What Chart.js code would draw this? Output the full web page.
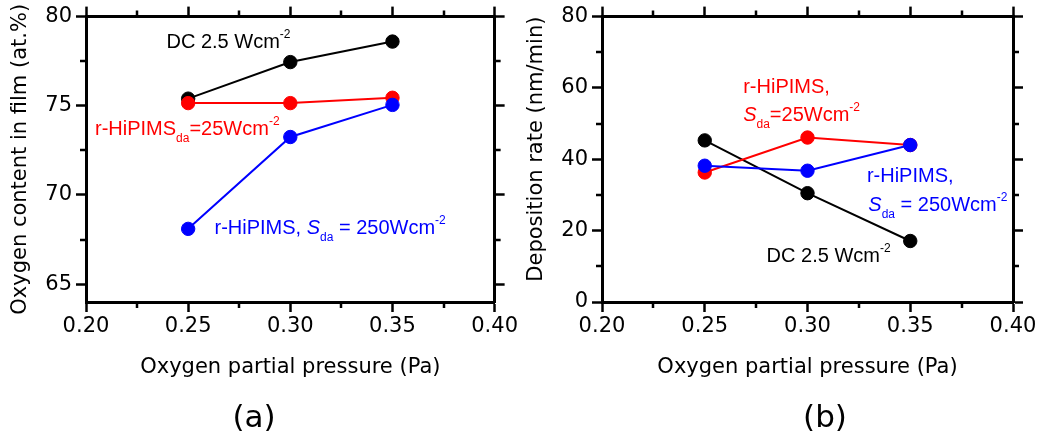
<!DOCTYPE html>
<html><head><meta charset="utf-8">
<script src="https://cdn.jsdelivr.net/npm/chart.js@4/dist/chart.umd.min.js"></script>
<style>
html,body{margin:0;padding:0;background:#fff;}
#wrap{position:relative;width:1040px;height:436px;overflow:hidden;background:#fff;}
.panel{position:absolute;top:0;width:520px;height:436px;}
.lbl{position:absolute;font-family:"DejaVu Sans",sans-serif;font-size:31px;color:#000;transform:translate(-50%,-50%);line-height:1;white-space:nowrap;}
</style></head><body>
<div id="wrap">
  <div class="panel" style="left:0"><canvas id="ca" width="520" height="436"></canvas></div>
  <div class="panel" style="left:520px"><canvas id="cb" width="520" height="436"></canvas></div>
  <div class="lbl" style="left:254px;top:416px">(a)</div>
  <div class="lbl" style="left:825px;top:416px">(b)</div>
</div>
<script>
// ---- data ----
const pressure = [0.25, 0.30, 0.35];
const oxygenDC = [75.4, 77.45, 78.6];
const oxygenHiP25 = [75.15, 75.15, 75.45];
const oxygenHiP250 = [68.1, 73.25, 75.05];
const rateDC = [45.3, 30.5, 17.1];
const rateHiP25 = [36.3, 46.1, 44.0];
const rateHiP250 = [38.2, 36.8, 44.0];
const xTicks = [0.20, 0.25, 0.30, 0.35, 0.40];
const yTicksA = [65, 70, 75, 80];
const yTicksB = [0, 20, 40, 60, 80];
const seriesNames = ['DC 2.5 Wcm-2', 'r-HiPIMS Sda=25Wcm-2', 'r-HiPIMS Sda=250Wcm-2'];

const BLACK = '#000000', RED = '#ff0000', BLUE = '#0000ff';

// ---- annotation texts (anchored in data coordinates) ----
const notesA = [
  {x: 0.2394, y: 78.23, color: BLACK, parts: [['DC 2.5 Wcm'], ['-2', 'sup']]},
  {x: 0.2044, y: 73.35, color: RED, parts: [['r-HiPIMS'], ['da', 'sub'], ['=25Wcm'], ['-2', 'sup']]},
  {x: 0.2629, y: 67.83, color: BLUE, parts: [['r-HiPIMS, '], ['S', 'i'], ['da', 'sub'], [' = 250Wcm'], ['-2', 'sup']]}
];
const notesB = [
  {x: 0.2687, y: 58.62, color: RED, parts: [['r-HiPIMS,']]},
  {x: 0.2687, y: 50.73, color: RED, parts: [['S', 'i'], ['da', 'sub'], ['=25Wcm'], ['-2', 'sup']]},
  {x: 0.3289, y: 33.53, color: BLUE, parts: [['r-HiPIMS,']]},
  {x: 0.3296, y: 25.6, color: BLUE, parts: [['S', 'i'], ['da', 'sub'], [' = 250Wcm'], ['-2', 'sup']]},
  {x: 0.2801, y: 11.23, color: BLACK, parts: [['DC 2.5 Wcm'], ['-2', 'sup']]}
];

Chart.defaults.font.family = '"DejaVu Sans", sans-serif';
Chart.defaults.color = '#000';

function richTextPlugin(items) {
  return {
    id: 'richText',
    afterDatasetsDraw(chart) {
      const ctx = chart.ctx, xs = chart.scales.x, ys = chart.scales.y;
      ctx.save();
      ctx.textAlign = 'left';
      ctx.textBaseline = 'alphabetic';
      for (const a of items) {
        let cx = xs.getPixelForValue(a.x);
        const by = ys.getPixelForValue(a.y);
        ctx.fillStyle = a.color;
        for (const [t, kind] of a.parts) {
          let size = 20, dy = 0, style = '';
          if (kind === 'sup') { size = 12; dy = -10; }
          if (kind === 'sub') { size = 12; dy = 7; }
          if (kind === 'i') { style = 'italic '; }
          ctx.font = style + size + 'px "Liberation Sans", Arial, sans-serif';
          ctx.fillText(t, cx, by + dy);
          cx += ctx.measureText(t).width;
        }
      }
      ctx.restore();
    }
  };
}

function minorTickPlugin(len, width) {
  return {
    id: 'minorTicks',
    afterDraw(chart) {
      const ctx = chart.ctx;
      ctx.save();
      ctx.strokeStyle = '#000';
      ctx.lineWidth = width;
      for (const id of Object.keys(chart.scales)) {
        const s = chart.scales[id];
        const vals = s.ticks.map(t => t.value);
        if (vals.length < 2) continue;
        const minors = [];
        for (let i = 0; i < vals.length - 1; i++) minors.push((vals[i] + vals[i + 1]) / 2);
        const step = vals[1] - vals[0];
        if (vals[0] - step / 2 >= s.min) minors.push(vals[0] - step / 2);
        if (vals[vals.length - 1] + step / 2 <= s.max) minors.push(vals[vals.length - 1] + step / 2);
        ctx.beginPath();
        for (const v of minors) {
          const p = Math.round(s.getPixelForValue(v));
          if (s.position === 'left') { ctx.moveTo(s.right, p); ctx.lineTo(s.right - len, p); }
          else if (s.position === 'right') { ctx.moveTo(s.left, p); ctx.lineTo(s.left + len, p); }
          else if (s.position === 'top') { ctx.moveTo(p, s.bottom); ctx.lineTo(p, s.bottom - len); }
          else { ctx.moveTo(p, s.top); ctx.lineTo(p, s.top + len); }
        }
        ctx.stroke();
      }
      ctx.restore();
    }
  };
}

function ds(label, values, color, order) {
  return {
    label,
    data: pressure.map((p, i) => ({x: p, y: values[i]})),
    borderColor: color, backgroundColor: color,
    pointBackgroundColor: color, pointBorderColor: color,
    pointRadius: 6.7, pointBorderWidth: 1, borderWidth: 2,
    order, clip: false, tension: 0
  };
}

function makeChart(canvasId, cfg) {
  const axisFont = {family: '"DejaVu Sans", sans-serif', size: 21};
  const grid = {drawOnChartArea: false, drawTicks: true, tickLength: 10, tickWidth: 2.5, tickColor: '#000'};
  const border = {display: true, width: 3, color: '#000'};
  const setTicks = arr => scale => { scale.ticks = arr.map(v => ({value: v})); };
  return new Chart(document.getElementById(canvasId), {
    type: 'line',
    data: {
      datasets: [
        ds(seriesNames[0], cfg.dc, BLACK, 2),
        ds(seriesNames[1], cfg.h25, RED, 1),
        ds(seriesNames[2], cfg.h250, BLUE, 0)
      ]
    },
    options: {
      responsive: false, animation: false, devicePixelRatio: 1,
      layout: {padding: {left: 0, right: 0, top: 0, bottom: 56}},
      plugins: {legend: {display: false}, tooltip: {enabled: false}, title: {display: false}},
      scales: {
        x: {
          type: 'linear', position: 'bottom', min: 0.2, max: 0.4,
          afterBuildTicks: setTicks(xTicks), afterFit: s => { s.height = 78; },
          grid, border,
          ticks: {font: axisFont, color: '#000', padding: 2, maxRotation: 0, autoSkip: false,
                  callback: v => Number(v).toFixed(2)},
          title: {display: true, text: 'Oxygen partial pressure (Pa)', font: axisFont, color: '#000',
                  padding: {top: 0, bottom: 0}}
        },
        x2: {
          type: 'linear', position: 'top', min: 0.2, max: 0.4,
          afterBuildTicks: setTicks(xTicks), afterFit: s => { s.height = 15; },
          grid, border, ticks: {display: false}
        },
        y: {
          type: 'linear', position: 'left', min: cfg.ymin, max: cfg.ymax,
          afterBuildTicks: setTicks(cfg.yTicks), afterFit: s => { s.width = cfg.leftW; },
          grid, border,
          ticks: {font: axisFont, color: '#000', padding: 4, autoSkip: false},
          title: {display: true, text: cfg.yTitle, font: axisFont, color: '#000', align: cfg.yAlign,
                  padding: {top: cfg.yTitlePad, bottom: 0}}
        },
        y2: {
          type: 'linear', position: 'right', min: cfg.ymin, max: cfg.ymax,
          afterBuildTicks: setTicks(cfg.yTicks), afterFit: s => { s.width = cfg.rightW; },
          grid, border, ticks: {display: false}
        }
      }
    },
    plugins: [minorTickPlugin(6, 2.5), richTextPlugin(cfg.notes)]
  });
}

makeChart('ca', {
  dc: oxygenDC, h25: oxygenHiP25, h250: oxygenHiP250,
  ymin: 64, ymax: 80, yTicks: yTicksA, leftW: 86, rightW: 24,
  yTitle: 'Oxygen content in film (at.%)', yAlign: 'center', yTitlePad: 8, notes: notesA
});
makeChart('cb', {
  dc: rateDC, h25: rateHiP25, h250: rateHiP250,
  ymin: 0, ymax: 80, yTicks: yTicksB, leftW: 82, rightW: 27,
  yTitle: 'Deposition rate (nm/min)', yAlign: 'end', yTitlePad: 4, notes: notesB
});
</script>
</body></html>
